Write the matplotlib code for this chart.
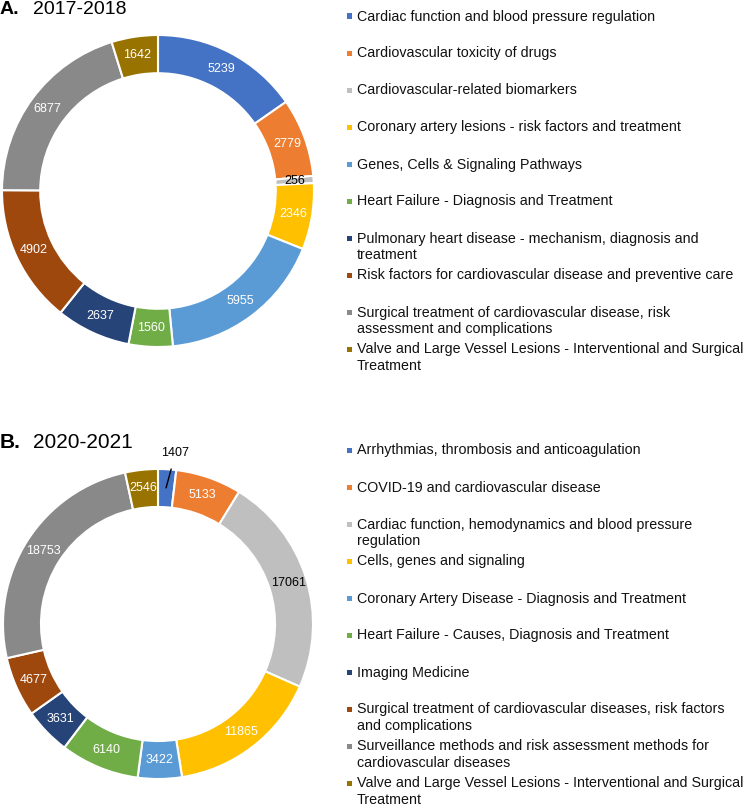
import matplotlib.pyplot as plt
from matplotlib.patches import Rectangle
import numpy as np

plt.rcParams['font.family'] = ['Liberation Sans', 'DejaVu Sans']

W, H = 746, 806

# Excel style palette
BLUE = "#4472C4"
ORANGE = "#ED7D31"
LGRAY = "#BFBFBF"
GOLD = "#FFC000"
LBLUE = "#5B9BD5"
GREEN = "#70AD47"
DBLUE = "#264478"
BROWN = "#9E480E"
DGRAY = "#898989"
OLIVE = "#997300"
colors = [BLUE, ORANGE, LGRAY, GOLD, LBLUE, GREEN, DBLUE, BROWN, DGRAY, OLIVE]

labels_a = [
    "Cardiac function and blood pressure regulation",
    "Cardiovascular toxicity of drugs",
    "Cardiovascular-related biomarkers",
    "Coronary artery lesions - risk factors and treatment",
    "Genes, Cells & Signaling Pathways",
    "Heart Failure - Diagnosis and Treatment",
    "Pulmonary heart disease - mechanism, diagnosis and\ntreatment",
    "Risk factors for cardiovascular disease and preventive care",
    "Surgical treatment of cardiovascular disease, risk\nassessment and complications",
    "Valve and Large Vessel Lesions - Interventional and Surgical\nTreatment",
]
values_a = [5239, 2779, 256, 2346, 5955, 1560, 2637, 4902, 6877, 1642]

labels_b = [
    "Arrhythmias, thrombosis and anticoagulation",
    "COVID-19 and cardiovascular disease",
    "Cardiac function, hemodynamics and blood pressure\nregulation",
    "Cells, genes and signaling",
    "Coronary Artery Disease - Diagnosis and Treatment",
    "Heart Failure - Causes, Diagnosis and Treatment",
    "Imaging Medicine",
    "Surgical treatment of cardiovascular diseases, risk factors\nand complications",
    "Surveillance methods and risk assessment methods for\ncardiovascular diseases",
    "Valve and Large Vessel Lesions - Interventional and Surgical\nTreatment",
]
values_b = [1407, 5133, 17061, 11865, 3422, 6140, 3631, 4677, 18753, 2546]


def px_box(cx, cy, r):
    return [(cx - r) / W, (H - cy - r) / H, 2 * r / W, 2 * r / H]


def donut(ax, values, outside=()):
    wedges, _ = ax.pie(values, colors=colors, startangle=90, counterclock=False,
                       radius=1.0,
                       wedgeprops=dict(width=0.245, edgecolor="white", linewidth=1.5))
    ax.set_xlim(-1, 1)
    ax.set_ylim(-1, 1)
    ax.set_aspect("equal")
    ax.axis("off")
    for i, (w, v) in enumerate(zip(wedges, values)):
        ang = np.deg2rad((w.theta1 + w.theta2) / 2)
        x, y = 0.88 * np.cos(ang), 0.88 * np.sin(ang)
        if i in outside:
            ax.annotate(str(v), xy=(x, y), xytext=(x + 0.06, 1.1),
                        ha="center", va="center", fontsize=9, color="black",
                        arrowprops=dict(arrowstyle="-", color="black", lw=1,
                                        shrinkA=5, shrinkB=0))
        else:
            tc = "black" if colors[i] == LGRAY else "white"
            ax.text(x, y, str(v), ha="center", va="center", fontsize=9, color=tc)


def legend(fig, labels, y0, step=37):
    for i, (lab, c) in enumerate(zip(labels, colors)):
        yc = y0 + i * step
        fig.text(357 / W, 1 - (yc - 6.5) / H, lab, ha="left", va="top",
                 fontsize=10.3, color="#111111", linespacing=1.25)
        fig.add_artist(Rectangle((347 / W, 1 - (yc + 2.5) / H), 5 / W, 5 / H,
                                 transform=fig.transFigure, color=c, lw=0))


fig = plt.figure(figsize=(W / 100, H / 100), dpi=100)

ax_a = fig.add_axes(px_box(158, 191, 156))
donut(ax_a, values_a)
ax_b = fig.add_axes(px_box(158, 624, 155))
donut(ax_b, values_b, outside=(0,))

fig.text(0 / W, 1 - 14.5 / H, "A.", fontsize=14, fontweight="bold", va="baseline", ha="left")
fig.text(33 / W, 1 - 14.5 / H, "2017-2018", fontsize=14, va="baseline", ha="left")
fig.text(0 / W, 1 - 448 / H, "B.", fontsize=15, fontweight="bold", va="baseline", ha="left")
fig.text(33 / W, 1 - 448 / H, "2020-2021", fontsize=15, va="baseline", ha="left")

legend(fig, labels_a, 16)
legend(fig, labels_b, 450)

fig.savefig("out.png", dpi=100)
